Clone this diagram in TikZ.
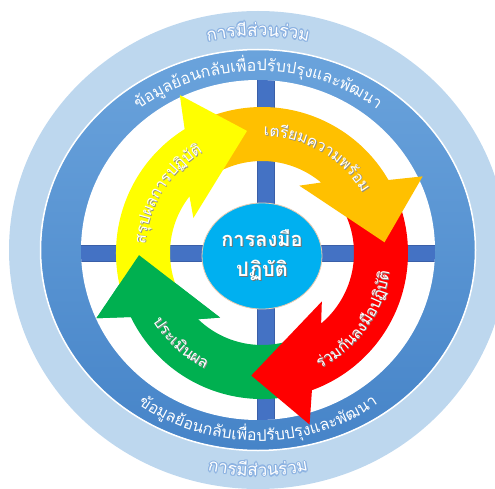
\documentclass[tikz,border=0pt]{standalone}
\usepackage{fontspec}
\newfontfamily\thai[Script=Thai]{Loma}
\usetikzlibrary{decorations.text}
\definecolor{lightring}{HTML}{BDD7EE}
\definecolor{ringtop}{HTML}{6AA3DC}
\definecolor{ringbot}{HTML}{4684C8}
\definecolor{barblue}{HTML}{4472C4}
\definecolor{bardark}{HTML}{3A5FA8}
\definecolor{ayellow}{HTML}{FFFF00}
\definecolor{aorange}{HTML}{FFC000}
\definecolor{ared}{HTML}{FF0000}
\definecolor{agreen}{HTML}{00B050}
\definecolor{hubblue}{HTML}{00B0F0}
\definecolor{hubedge}{HTML}{E9CBB0}
\definecolor{glowblue}{HTML}{8DB3E2}
\definecolor{shadowgray}{HTML}{8C8C8C}
\newcommand\cycarrow[3]{%
  \fill[#1] (#3:146) arc[start angle=#3, end angle={#2+25}, radius=146]
    -- ({#2+20.5}:178) -- (#2:123) -- ({#2+56}:77) -- ({#2+45}:92)
    arc[start angle={#2+45}, end angle=#3, radius=92] -- cycle;}
\newcommand\arrowtexts[1]{%
  \path[curvetext={|\thai\fontsize{15.5}{18}\selectfont\color{#1}|ส{รุ}ปผลการป{ฏิ}{บั}{ติ}}]
    (190:117) arc[start angle=190, end angle=106, radius=117];
  \path[curvetext={|\thai\fontsize{15.5}{18}\selectfont\color{#1}|เต{รี}ยมความพ{ร้}อม}]
    (102:117) arc[start angle=102, end angle=18, radius=117];
  \path[curvetext={|\thai\fontsize{15.5}{18}\selectfont\color{#1}|{ร่}วม{กั}นลง{มื}อป{ฏิ}{บั}{ติ}}]
    (-80:129) arc[start angle=-80, end angle=8, radius=129];
  \path[curvetext={|\thai\fontsize{15.5}{18}\selectfont\color{#1}|ประเ{มิ}นผล}]
    (186:129) arc[start angle=186, end angle=270, radius=129];}
\tikzset{
  bar/.style={fill=barblue, draw=bardark, line width=0.6},
  curvetext/.style={decorate, decoration={text along path, text align=center, text={#1}}}
}
\begin{document}
\begin{tikzpicture}[x=1pt,y=1pt]
\useasboundingbox (0,0) rectangle (495,488);
\clip (0,0) rectangle (495,488);
\coordinate (R0) at (258,238);
\coordinate (A0) at (262,235);
% outer light ring
\fill[lightring] (R0) ellipse[x radius=249, y radius=239];
% medium ring
\shade[top color=ringtop, bottom color=ringbot]
  (R0) ellipse[x radius=217, y radius=200];
\draw[white, line width=1.5] (R0) ellipse[x radius=217.5, y radius=200.5];
\fill[white] (R0) ellipse[x radius=177, y radius=170];
% cross bars
\begin{scope}
  \clip (R0) ellipse[x radius=177, y radius=170];
  \draw[bar] (257,40) rectangle (274,440);
  \draw[bar] (50,227) rectangle (460,243);
\end{scope}
% ring texts
\begin{scope}[shift={(R0)}]
  \path[curvetext={|\thai\fontsize{16}{19}\selectfont\color{white}|{ข้}อ{มู}ล{ย้}อนก{ลั}บเ{พื่}อป{รั}บป{รุ}งและ{พั}ฒนา}]
    (140:192 and 179) arc[start angle=140, end angle=40, x radius=192, y radius=179];
  \path[curvetext={|\thai\fontsize{16}{19}\selectfont\color{white}|{ข้}อ{มู}ล{ย้}อนก{ลั}บเ{พื่}อป{รั}บป{รุ}งและ{พั}ฒนา}]
    (220:203 and 191) arc[start angle=220, end angle=320, x radius=203, y radius=191];
  \foreach \dx/\dy in {1.2/0,-1.2/0,0/1.2,0/-1.2,0.9/0.9,-0.9/0.9,0.9/-0.9,-0.9/-0.9}{
    \begin{scope}[shift={(\dx,\dy)}]
    \path[curvetext={|\thai\fontsize{17}{20}\selectfont\color{glowblue}|การ{มี}{ส่}วน{ร่}วม}]
      (115:228 and 214) arc[start angle=115, end angle=65, x radius=228, y radius=214];
    \path[curvetext={|\thai\fontsize{17}{20}\selectfont\color{glowblue}|การ{มี}{ส่}วน{ร่}วม}]
      (245:238 and 226) arc[start angle=245, end angle=295, x radius=238, y radius=226];
    \end{scope}}
  \path[curvetext={|\thai\fontsize{17}{20}\selectfont\color{white}|การ{มี}{ส่}วน{ร่}วม}]
    (115:228 and 214) arc[start angle=115, end angle=65, x radius=228, y radius=214];
  \path[curvetext={|\thai\fontsize{17}{20}\selectfont\color{white}|การ{มี}{ส่}วน{ร่}วม}]
    (245:238 and 226) arc[start angle=245, end angle=295, x radius=238, y radius=226];
\end{scope}
% cycle arrows
\begin{scope}[shift={(A0)}]
  \cycarrow{agreen}{181}{289}
  \cycarrow{ared}{-95}{29}
  \cycarrow{aorange}{5}{121}
  \cycarrow{ayellow}{97}{205}
  \fill[agreen] (206:146) -- (201.5:178) -- (181:123) -- (237:77) -- (226:92) -- cycle;
  \begin{scope}[shift={(0.8,-0.8)}]
    \arrowtexts{shadowgray}
  \end{scope}
  \arrowtexts{white}
\end{scope}
% hub
\draw[fill=hubblue, draw=hubedge, line width=0.8] (262,232) ellipse[x radius=60, y radius=53];
\node[text=black!55, font=\thai\bfseries\fontsize{20}{30}\selectfont, align=center] (hubshadow) at (263,232) {การลงมือ\\ปฏิบัติ};
\node[text=white, font=\thai\bfseries\fontsize{20}{30}\selectfont, align=center] (hub) at (262,233) {การลงมือ\\ปฏิบัติ};
\end{tikzpicture}
\end{document}
